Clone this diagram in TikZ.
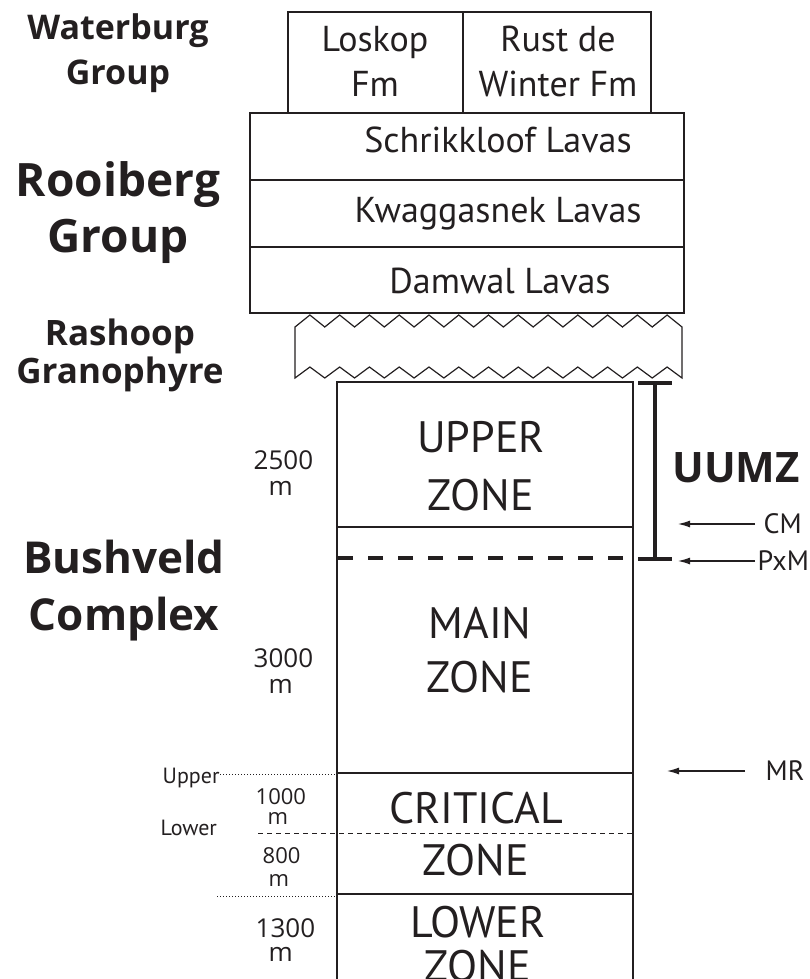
\documentclass[tikz,border=0pt]{standalone}
\usepackage{fontspec}
\setmainfont{PT Sans}
\newfontfamily\headfont{Open Sans}
\usetikzlibrary{arrows.meta}
\definecolor{ink}{HTML}{231F20}

\begin{document}
\begin{tikzpicture}[x=1pt,y=-1pt,color=ink,line width=1.4pt,
	group/.style={align=center,anchor=base,inner sep=0pt},
	layer/.style={font=\fontsize{36}{45}\selectfont,align=center,anchor=base,inner sep=0pt},
	zone/.style={font=\fontsize{44}{#1}\selectfont,align=center,anchor=base,inner sep=0pt},
	thickness/.style={align=left,anchor=base west,inner sep=0pt},
	horizon/.style={font=\fontsize{28}{28}\selectfont,anchor=west,inner sep=0pt},
	pointer/.style={line width=1.2pt,-{Latex[length=12pt,width=7pt]}}]
	
	% fix the frame of the picture
	\useasboundingbox (0,0) rectangle (809,979);
	
	% group names on the left
	\node[group,font=\headfont\bfseries\fontsize{34}{45}\selectfont] (waterburg) at (118,85) {Waterburg\\Group};
	\node[group,font=\headfont\bfseries\fontsize{46}{56}\selectfont] (rooiberg) at (118,252) {Rooiberg\\Group};
	\node[group,font=\headfont\bfseries\fontsize{35}{38}\selectfont] (rashoop) at (120,383) {Rashoop\\Granophyre};
	\node[group,font=\headfont\bfseries\fontsize{44}{57}\selectfont] (bushveld) at (124,630) {Bushveld\\Complex};
	
	% Waterburg formations
	\draw (288,12) rectangle (463,113);
	\draw (463,12) rectangle (651,113);
	\node[layer] (loskop) at (375,97) {Loskop\\Fm};
	\node[layer] (rust) at (558,97) {Rust de\\Winter Fm};
	
	% Rooiberg lavas
	\draw (250,113) rectangle (684,313);
	\draw (250,180) -- (684,180);
	\draw (250,247) -- (684,247);
	\node[layer] (schrikkloof) at (498,153) {Schrikkloof Lavas};
	\node[layer] (kwaggasnek) at (498,222) {Kwaggasnek Lavas};
	\node[layer] (damwal) at (500,293) {Damwal Lavas};
	
	% Rashoop granophyre, zigzag top and bottom
	\def\p{29.77}
	\draw[line width=1.2pt,line join=miter] (295,327)
		\foreach \i in {0,...,12}{ -- ({295+(\i+0.5)*\p},315) -- ({295+(\i+1)*\p},327)}
		-- (682,378)
		\foreach \i in {12,...,0}{ -- ({295+(\i+0.5)*\p},367) -- ({295+\i*\p},378)}
		-- cycle;
	
	% Bushveld column
	\draw (337,979) -- (337,382) -- (633,382) -- (633,979);
	\draw (337,527) -- (633,527);
	\draw[line width=4pt,dash pattern=on 15pt off 15pt] (338,558) -- (624,558);
	\draw (337,773) -- (633,773);
	\draw[line width=0.9pt,dash pattern=on 5pt off 4pt] (258,833) -- (633,833);
	\draw (337,894) -- (633,894);
	
	\node[zone=58] (upper) at (481,510) {UPPER\\ZONE};
	\node[zone=54] (main) at (480,692) {MAIN\\ZONE};
	\node[zone=52] (critical) at (476,875) {CRITICAL\\ZONE};
	\node[zone=44] (lower) at (478,981) {LOWER\\ZONE};
	
	% thicknesses
	\node[thickness,font=\headfont\fontsize{26}{26}\selectfont] (t2500) at (253,495) {2500\\\hspace*{15pt}m};
	\node[thickness,font=\headfont\fontsize{26}{26}\selectfont] (t3000) at (253,693) {3000\\\hspace*{15pt}m};
	\node[thickness,font=\headfont\fontsize{22}{20}\selectfont] (t1000) at (255,824) {1000\\\hspace*{12pt}m};
	\node[thickness,font=\headfont\fontsize{22}{23}\selectfont] (t800) at (262,886) {800\\\hspace*{6pt}m};
	\node[thickness,font=\headfont\fontsize{26}{24}\selectfont] (t1300) at (255,961) {1300\\\hspace*{13pt}m};
	
	% upper and lower critical zone
	\node[font=\fontsize{22}{22}\selectfont,anchor=base west,inner sep=0pt] (uppercz) at (162,783) {Upper};
	\node[font=\fontsize{22}{22}\selectfont,anchor=base west,inner sep=0pt] (lowercz) at (160,835) {Lower};
	\draw[line width=1pt,dash pattern=on 1pt off 2pt] (uppercz.east |- 0,774) -- (337,774);
	\draw[line width=1pt,dash pattern=on 1pt off 2pt] (217,896) -- (337,896);
	
	% UUMZ bracket
	\draw[line width=4pt] (638,383) -- (672,383) (655,383) -- (655,559) (638,559) -- (672,559);
	\node[font=\headfont\bfseries\fontsize{42}{42}\selectfont,anchor=base,inner sep=0pt] (uumz) at (736,482) {UUMZ};
	
	% marker horizons
	\node[horizon] (cm) at (763,524) {CM};
	\node[horizon] (pxm) at (757,561) {PxM};
	\node[horizon] (mr) at (765,771) {MR};
	\coordinate (cmtip) at (678,524);
	\coordinate (pxmtip) at (678,561);
	\coordinate (mrtip) at (667,771);
	\draw[pointer] ([xshift=-8pt]cm.west) -- (cmtip);
	\draw[pointer] ([xshift=-2pt]pxm.west) -- (pxmtip);
	\draw[pointer] ([xshift=-20pt]mr.west) -- (mrtip);
	
\end{tikzpicture}
\end{document}
